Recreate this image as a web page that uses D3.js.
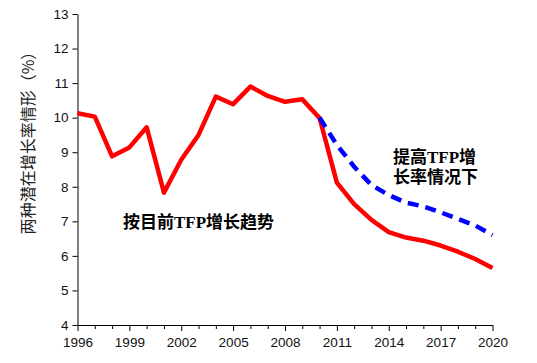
<!DOCTYPE html>
<html>
<head>
<meta charset="utf-8">
<script src="https://cdn.jsdelivr.net/npm/d3@7"></script>
<style>
  body { margin: 0; background: #fff; }
  svg { display: block; }
  .tick text { font-family: "Liberation Sans", Arial, sans-serif; font-size: 13.5px; fill: #111; }
</style>
</head>
<body>
<div class="chart"></div>
<script>
// years on x axis
const years = [1996, 1997, 1998, 1999, 2000, 2001, 2002, 2003, 2004, 2005, 2006, 2007, 2008,
  2009, 2010, 2011, 2012, 2013, 2014, 2015, 2016, 2017, 2018, 2019, 2020]
// 按目前TFP增长趋势 (red)
const currentTrend = [10.13, 10.03, 8.88, 9.14, 9.72, 7.83, 8.78, 9.5, 10.61, 10.39, 10.9, 10.63, 10.46,
  10.53, 9.99, 8.12, 7.5, 7.04, 6.69, 6.53, 6.44, 6.3, 6.12, 5.91, 5.65]
// 提高TFP增长率情况下 (blue dashed), 2010-2020
const raisedYears = [2010, 2011, 2012, 2013, 2014, 2015, 2016, 2017, 2018, 2019, 2020]
const raisedTrend = [10.0, 9.21, 8.58, 8.05, 7.76, 7.54, 7.43, 7.26, 7.07, 6.88, 6.6]
const yTicks = [4, 5, 6, 7, 8, 9, 10, 11, 12, 13]
const xLabels = [1996, 1999, 2002, 2005, 2008, 2011, 2014, 2017, 2020]

const svg = d3.select(".chart").append("svg")
  .attr("width", 537)
  .attr("height", 363)

const margin = {top: 14, right: 44.5, bottom: 38, left: 77.5}
const width = svg.attr('width') - margin.left - margin.right
const height = svg.attr('height') - margin.top - margin.bottom

const g = svg.append('g')
  .attr('transform', `translate(${margin.left}, ${margin.top})`)

const x = d3.scaleLinear()
  .domain([1996, 2020])
  .range([0, width])

const y = d3.scaleLinear()
  .domain([4, 13])
  .range([height, 0])

// y axis
const yAxis = g.append('g')
  .call(d3.axisLeft(y).tickValues(yTicks).tickSize(5).tickSizeOuter(0).tickPadding(4))
yAxis.select('.domain').attr('stroke', '#000')
yAxis.selectAll('.tick line').attr('stroke', '#000')

// x axis: a tick every year, labels every 3 years
const xAxis = g.append('g')
  .attr('transform', `translate(0, ${height})`)
  .call(d3.axisBottom(x).tickValues(years).tickSize(4).tickSizeOuter(0).tickPadding(8)
    .tickFormat(d => xLabels.includes(d) ? d : ''))
xAxis.select('.domain').attr('stroke', '#000')
xAxis.selectAll('.tick line')
  .attr('stroke', '#000')
  .attr('y2', d => xLabels.includes(d) ? 6 : 4)
xAxis.selectAll('.tick text').attr('dy', '0.75em')

// y axis title
svg.append('text')
  .attr('transform', 'translate(27, 139) rotate(-90)')
  .attr('text-anchor', 'middle')
  .attr('dominant-baseline', 'central')
  .style('font-family', '"Noto Sans CJK SC", sans-serif')
  .style('font-size', '16px')
  .style('fill', '#222')
  .text('两种潜在增长率情形（%）')

const line = d3.line()
  .x(d => x(d[0]))
  .y(d => y(d[1]))

g.append('path')
  .datum(years.map((yr, i) => [yr, currentTrend[i]]))
  .attr('d', line)
  .attr('fill', 'none')
  .attr('stroke', '#ff0000')
  .attr('stroke-width', 4.5)
  .attr('stroke-linejoin', 'round')

g.append('path')
  .datum(raisedYears.map((yr, i) => [yr, raisedTrend[i]]))
  .attr('d', line)
  .attr('fill', 'none')
  .attr('stroke', '#0000ff')
  .attr('stroke-width', 4.5)
  .attr('stroke-dasharray', '11,7')

// annotations
const note = svg.append('g')
  .style('font-family', '"Liberation Serif", "Noto Sans CJK SC", serif')
  .style('font-weight', 'bold')
  .style('font-size', '17px')
  .style('fill', '#000')

note.append('text').attr('x', 393).attr('y', 163).text('提高TFP增')
note.append('text').attr('x', 393).attr('y', 183).text('长率情况下')
note.append('text').attr('x', 123).attr('y', 228).text('按目前TFP增长趋势')
</script>
</body>
</html>
